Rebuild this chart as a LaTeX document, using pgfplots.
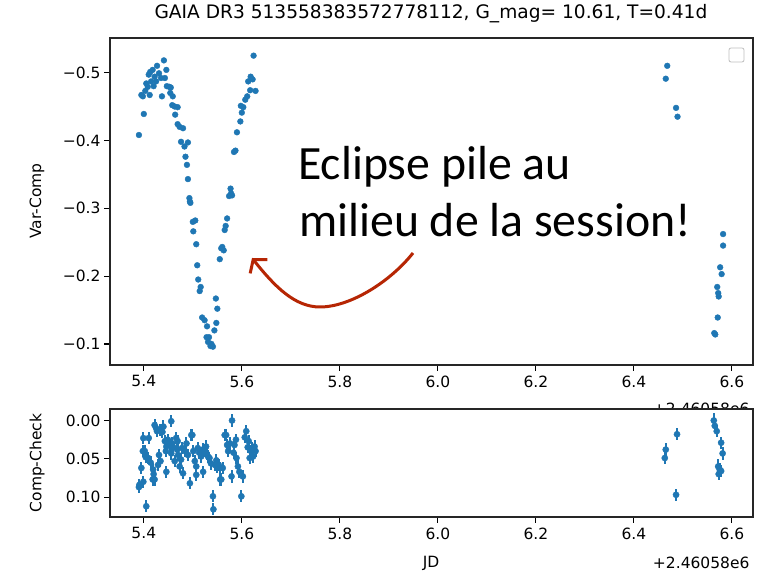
\documentclass[border=0pt]{standalone}
\usepackage{pgfplots}
\pgfplotsset{compat=1.18}
\usepackage{fontspec}
\setmainfont{DejaVu Sans}
\newfontfamily\carlito{Carlito}
\usetikzlibrary{arrows.meta}
\definecolor{mplblue}{HTML}{1F77B4}
\definecolor{arrowred}{RGB}{182,38,4}

% top panel: Var-Comp
\pgfplotstableread{
x y
5.390 -0.408
5.400 -0.439
5.395 -0.467
5.398 -0.465
5.403 -0.473
5.405 -0.484
5.408 -0.479
5.410 -0.497
5.412 -0.467
5.415 -0.487
5.413 -0.501
5.418 -0.504
5.420 -0.480
5.422 -0.494
5.425 -0.487
5.427 -0.510
5.431 -0.499
5.435 -0.492
5.441 -0.518
5.437 -0.465
5.446 -0.504
5.443 -0.492
5.447 -0.480
5.452 -0.479
5.455 -0.478
5.454 -0.470
5.459 -0.465
5.458 -0.452
5.463 -0.450
5.469 -0.449
5.464 -0.438
5.469 -0.424
5.473 -0.420
5.480 -0.418
5.476 -0.398
5.483 -0.391
5.490 -0.397
5.485 -0.376
5.488 -0.364
5.490 -0.343
5.493 -0.315
5.494 -0.310
5.495 -0.308
5.500 -0.280
5.505 -0.282
5.501 -0.266
5.507 -0.247
5.509 -0.216
5.511 -0.195
5.516 -0.184
5.514 -0.178
5.519 -0.139
5.524 -0.135
5.529 -0.126
5.528 -0.110
5.531 -0.103
5.533 -0.110
5.536 -0.097
5.538 -0.100
5.541 -0.096
5.544 -0.120
5.548 -0.131
5.550 -0.152
5.547 -0.167
5.555 -0.225
5.558 -0.241
5.563 -0.238
5.560 -0.243
5.565 -0.268
5.567 -0.274
5.570 -0.285
5.574 -0.318
5.577 -0.329
5.578 -0.322
5.580 -0.319
5.584 -0.383
5.587 -0.385
5.590 -0.412
5.597 -0.428
5.600 -0.441
5.598 -0.451
5.603 -0.449
5.607 -0.460
5.611 -0.465
5.617 -0.474
5.613 -0.487
5.618 -0.494
5.622 -0.490
5.628 -0.473
5.624 -0.525
6.468 -0.510
6.465 -0.491
6.486 -0.448
6.489 -0.435
6.582 -0.262
6.582 -0.245
6.576 -0.213
6.579 -0.203
6.570 -0.184
6.572 -0.175
6.573 -0.170
6.571 -0.139
6.564 -0.116
6.566 -0.114
}\varcomp

% bottom panel: Comp-Check with errors
\pgfplotstableread{
x y e
5.390 0.087 0.008
5.391 0.084 0.008
5.395 0.062 0.008
5.398 0.040 0.008
5.399 0.080 0.008
5.399 0.023 0.008
5.402 0.040 0.008
5.404 0.048 0.008
5.405 0.112 0.008
5.409 0.049 0.008
5.410 0.023 0.008
5.414 0.055 0.008
5.418 0.077 0.008
5.419 0.064 0.008
5.420 0.070 0.008
5.422 0.077 0.008
5.422 0.006 0.008
5.425 0.010 0.008
5.427 0.014 0.008
5.429 0.058 0.008
5.431 0.045 0.008
5.433 0.012 0.008
5.434 0.053 0.008
5.435 0.012 0.008
5.438 0.015 0.008
5.440 0.008 0.008
5.443 0.027 0.008
5.445 0.040 0.008
5.446 0.067 0.008
5.446 0.034 0.008
5.449 0.025 0.008
5.453 0.032 0.008
5.456 0.001 0.008
5.456 0.043 0.008
5.458 0.030 0.008
5.460 0.035 0.008
5.463 0.053 0.008
5.466 0.023 0.008
5.468 0.038 0.008
5.469 0.027 0.008
5.470 0.045 0.008
5.473 0.060 0.008
5.476 0.051 0.008
5.478 0.036 0.008
5.480 0.069 0.008
5.484 0.040 0.008
5.487 0.030 0.008
5.490 0.045 0.008
5.494 0.082 0.008
5.497 0.019 0.008
5.499 0.019 0.008
5.501 0.040 0.008
5.504 0.053 0.008
5.507 0.060 0.008
5.507 0.071 0.008
5.510 0.036 0.008
5.513 0.042 0.008
5.517 0.047 0.008
5.520 0.038 0.008
5.521 0.067 0.008
5.524 0.040 0.008
5.527 0.034 0.008
5.528 0.043 0.008
5.531 0.047 0.008
5.534 0.049 0.008
5.537 0.056 0.008
5.541 0.099 0.008
5.542 0.116 0.008
5.545 0.058 0.008
5.548 0.052 0.008
5.550 0.060 0.008
5.553 0.058 0.008
5.555 0.062 0.008
5.556 0.077 0.008
5.558 0.077 0.008
5.561 0.062 0.008
5.565 0.019 0.008
5.568 0.019 0.008
5.570 0.032 0.008
5.572 0.040 0.008
5.576 0.030 0.008
5.579 0.073 0.008
5.580 0.000 0.008
5.583 0.042 0.008
5.585 0.032 0.008
5.588 0.025 0.008
5.589 0.049 0.008
5.592 0.060 0.008
5.595 0.067 0.008
5.599 0.099 0.008
5.602 0.073 0.008
5.606 0.022 0.008
5.609 0.014 0.008
5.612 0.035 0.008
5.614 0.027 0.008
5.616 0.049 0.008
5.619 0.040 0.008
5.621 0.036 0.008
5.623 0.047 0.008
5.626 0.034 0.008
5.628 0.040 0.008
6.465 0.038 0.008
6.463 0.049 0.008
6.488 0.018 0.008
6.486 0.097 0.008
6.563 0.000 0.010
6.565 0.007 0.008
6.569 0.014 0.008
6.578 0.029 0.008
6.581 0.043 0.008
6.572 0.060 0.010
6.575 0.064 0.008
6.578 0.066 0.008
6.573 0.070 0.008
}\compcheck

\pgfplotsset{
  mplaxis/.style={
    scale only axis, anchor=south west, width=643pt,
    xmin=5.331, xmax=6.643, y dir=reverse,
    xtick={5.4,5.6,5.8,6.0,6.2,6.4,6.6},
    xticklabels={5.4,5.6,5.8,6.0,6.2,6.4,6.6},
    tick align=outside, xtick pos=bottom, ytick pos=left,
    major tick length=6pt,
    every tick/.style={black, line width=1.1pt},
    axis line style={line width=1.1pt, black!85},
    ticklabel style={font=\fontsize{15.5}{18}\selectfont},
    xticklabel style={yshift=-1pt},
    axis background/.style={fill=white},
  },
}

\begin{document}
\begin{tikzpicture}[x=1pt,y=1pt]
\useasboundingbox (0,0) rectangle (777,572);

\begin{axis}[mplaxis, at={(110pt,207pt)}, height=327pt,
  ymin=-0.551, ymax=-0.069,
  ytick={-0.5,-0.4,-0.3,-0.2,-0.1},
  yticklabels={−0.5,−0.4,−0.3,−0.2,−0.1},
]
\addplot[only marks, mark=*, mark size=2.9pt, color=mplblue] table[x=x,y=y] {\varcomp};
\end{axis}

% offset text of the top panel, partly hidden by the lower panel
\node[anchor=east, font=\fontsize{15.5}{18}\selectfont] at (753,163) {+2.46058e6};

\begin{axis}[mplaxis, at={(110pt,55pt)}, height=108pt,
  ymin=-0.015, ymax=0.126,
  ytick={0,0.05,0.1},
  yticklabels={0.00,0.05,0.10},
]
\addplot[only marks, mark=*, mark size=3.1pt, color=mplblue,
  error bars/.cd, y dir=both, y explicit, error mark=none,
  error bar style={line width=2pt, mplblue}]
  table[x=x,y=y,y error=e] {\compcheck};
\end{axis}

% titles and labels
\node[font=\fontsize{18.6}{22}\selectfont] at (431,558) {GAIA DR3 513558383572778112, G\_mag= 10.61, T=0.41d};
\node[rotate=90, font=\fontsize{15.5}{18}\selectfont] at (37,371) {Var-Comp};
\node[rotate=90, font=\fontsize{15.5}{18}\selectfont] at (37,109) {Comp-Check};
\node[font=\fontsize{15.5}{18}\selectfont] at (431,9) {JD};
\node[anchor=east, font=\fontsize{15.5}{18}\selectfont] at (753,9) {+2.46058e6};

% empty legend frame
\draw[black!25, fill=white, rounded corners=2pt, line width=0.8pt] (729,510) rectangle (744,524);

% annotation
\node[anchor=base west, inner sep=0pt, font=\carlito\fontsize{47.8}{56}\selectfont] at (298,392) {Eclipse pile au};
\node[anchor=base west, inner sep=0pt, font=\carlito\fontsize{47.8}{56}\selectfont] at (299,335) {milieu de la session!};
\draw[arrowred, line width=3pt, -{Straight Barb[length=9pt,width=22pt]}]
  (413,319) .. controls (390,290) and (350,265) .. (320,265)
  .. controls (295,265) and (275,285) .. (252,314);
\end{tikzpicture}
\end{document}
